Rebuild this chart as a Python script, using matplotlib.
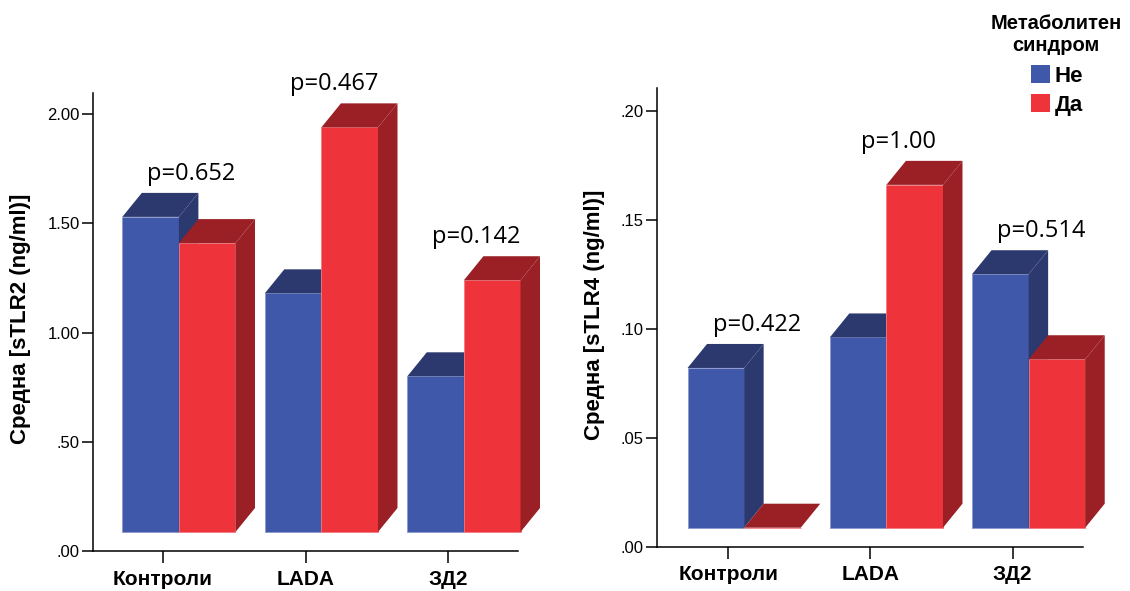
import matplotlib
matplotlib.use("Agg")
import matplotlib.pyplot as plt
from matplotlib.patches import Polygon, Patch

# ---- data ----
categories = ['Контроли', 'LADA', 'ЗД2']
tlr2_no = [1.53, 1.18, 0.80]
tlr2_yes = [1.41, 1.94, 1.24]
tlr4_no = [0.082, 0.096, 0.125]
tlr4_yes = [0.0, 0.166, 0.086]
p_tlr2 = ['p=0.652', 'p=0.467', 'p=0.142']
p_tlr4 = ['p=0.422', 'p=1.00', 'p=0.514']
tlr2_ticks = [0.0, 0.5, 1.0, 1.5, 2.0]
tlr2_ticklabels = ['.00', '.50', '1.00', '1.50', '2.00']
tlr4_ticks = [0.0, 0.05, 0.10, 0.15, 0.20]
tlr4_ticklabels = ['.00', '.05', '.10', '.15', '.20']
legend_title = 'Метаболитен\nсиндром'
legend_labels = ['Не', 'Да']

# ---- style ----
FRONT = ['#3f58aa', '#ef333a']
SHADE = ['#2b396e', '#9a2026']
EDGE = ['#8d98cf', '#f17d82']
DPI = 100
W, H = 1130, 591

# bar geometry in pixels
BAR_W = 56.6
BAR_OFF = -40.7
DEPTH_X = 19.5
DEPTH_Y = 24.0
FLOOR = 19.0
P_GAP = 7.0

plt.rcParams['font.family'] = ['Liberation Sans', 'DejaVu Sans']
fig = plt.figure(figsize=(W / DPI, H / DPI), dpi=DPI)


def px_axes(x0, x1, ybot, ytop):
    return fig.add_axes([x0 / W, (H - ybot) / H, (x1 - x0) / W, (ybot - ytop) / H])


def draw_panel(ax, no_vals, yes_vals, ymax, ticks, ticklabels, ylabel, pvals, xlim):
    ax.set_xlim(*xlim)
    ax.set_ylim(0, ymax)
    bb = ax.get_position()
    sx = bb.width * W / (xlim[1] - xlim[0])   # px per x unit
    sy = bb.height * H / ymax                 # px per y unit
    w = BAR_W / sx
    off = BAR_OFF / sx
    dx = DEPTH_X / sx
    dy = DEPTH_Y / sy
    floor = FLOOR / sy

    z = 3
    for i in range(len(categories)):
        tops = []
        for s, vals in enumerate([no_vals, yes_vals]):
            left = i + off + s * w
            top = max(vals[i], floor)
            tops.append(top)
            ax.bar(left, top - floor, width=w, bottom=floor, align='edge',
                   color=FRONT[s], edgecolor=EDGE[s], linewidth=0.6,
                   zorder=z, clip_on=False)
            ax.add_patch(Polygon([(left, top), (left + w, top),
                                  (left + w + dx, top + dy), (left + dx, top + dy)],
                                 closed=True, facecolor=SHADE[s], edgecolor='none',
                                 zorder=z + 0.1, clip_on=False))
            ax.add_patch(Polygon([(left + w, floor), (left + w + dx, floor + dy),
                                  (left + w + dx, top + dy), (left + w, top)],
                                 closed=True, facecolor=SHADE[s], edgecolor='none',
                                 zorder=z + 0.1, clip_on=False))
            z += 1
        ax.text(i + 0.2, max(tops) + dy + P_GAP / sy, pvals[i], ha='center',
                va='bottom', fontsize=17, family=['Open Sans', 'DejaVu Sans'],
                color='#000000', zorder=20)

    ax.set_yticks(ticks)
    ax.set_yticklabels(ticklabels, fontsize=12)
    ax.set_xticks(range(len(categories)))
    ax.set_xticklabels(categories, fontsize=15, fontweight='bold')
    ax.tick_params(axis='y', length=8, width=1.1, pad=1.5)
    ax.tick_params(axis='x', length=8.5, width=1.1, pad=5)
    for side in ('top', 'right'):
        ax.spines[side].set_visible(False)
    for side in ('left', 'bottom'):
        ax.spines[side].set_linewidth(1.1)
    ax.set_ylabel(ylabel, fontsize=16, fontweight='bold')
    ax.patch.set_alpha(0)


ax1 = px_axes(93, 518, 551, 93.3)
draw_panel(ax1, tlr2_no, tlr2_yes, 2.096, tlr2_ticks, tlr2_ticklabels,
           'Средна [sTLR2 (ng/ml)]', p_tlr2, (-0.4912, 2.4912))
ax1.yaxis.set_label_coords(-0.145, 0.508)

ax2 = px_axes(656.7, 1083, 546.7, 88.3)
draw_panel(ax2, tlr4_no, tlr4_yes, 0.2103, tlr4_ticks, tlr4_ticklabels,
           'Средна [sTLR4 (ng/ml)]', p_tlr4, (-0.503, 2.494))
ax2.yaxis.set_label_coords(-0.121, 0.5055)

# legend
fig.text(1056 / W, 1 - 14 / H, legend_title, ha='center', va='top',
         fontsize=14.5, fontweight='bold', linespacing=1.2)
handles = [Patch(facecolor=c, edgecolor='none') for c in FRONT]
fig.legend(handles, legend_labels, loc='upper left',
           bbox_to_anchor=(1031 / W, 1 - 65 / H), frameon=False,
           prop={'weight': 'bold', 'size': 16}, handlelength=0.85,
           handleheight=0.85, handletextpad=0.2, labelspacing=0.35,
           borderaxespad=0, borderpad=0)

fig.savefig('out.png', dpi=DPI)
